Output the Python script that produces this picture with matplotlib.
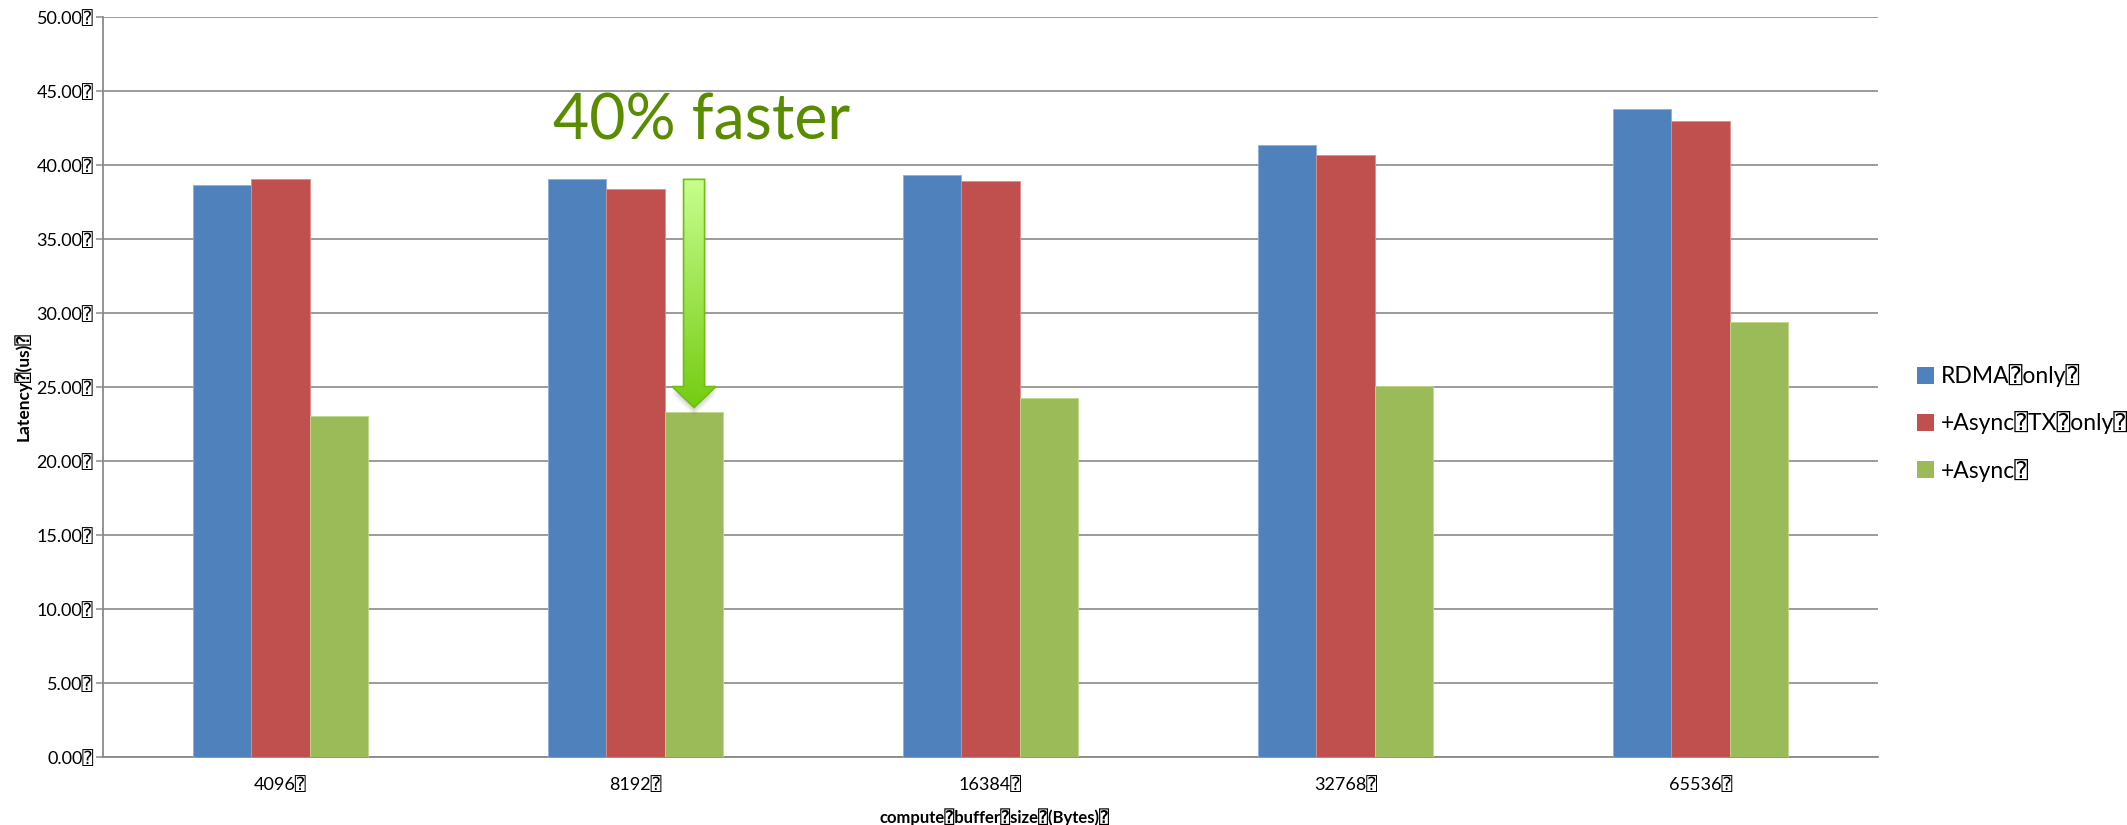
import numpy as np
import matplotlib
matplotlib.use("Agg")
import matplotlib.pyplot as plt
from matplotlib.patches import Polygon, Patch
from matplotlib.colors import LinearSegmentedColormap

# ---- data -------------------------------------------------------------
BOX = "\u2370"
sizes = ["4096", "8192", "16384", "32768", "65536"]
series_names = ["RDMA" + BOX + "only" + BOX,
                "+Async" + BOX + "TX" + BOX + "only" + BOX,
                "+Async" + BOX]
rdma_only = [38.63, 39.01, 39.28, 41.33, 43.74]
async_tx_only = [39.01, 38.34, 38.88, 40.66, 42.93]
async_full = [23.02, 23.29, 24.24, 25.02, 29.39]
y_ticks = [0, 5, 10, 15, 20, 25, 30, 35, 40, 45, 50]
callout = "40% faster"
callout_group = 1

colors = ["#4f81bd", "#c0504d", "#9bbb59"]
edge_colors = ["#8eb0dc", "#dd8e8c", "#c0d88f"]

plt.rcParams["font.family"] = ["Lato", "DejaVu Sans", "DejaVu Sans Mono"]

W, H = 2127, 825
fig = plt.figure(figsize=(W / 100, H / 100), dpi=100)
ax = fig.add_axes([103 / W, (H - 756.7) / H, (1878 - 103) / W, (756.7 - 16.7) / H])

x = np.arange(len(sizes))
bw = 0.165
series = [rdma_only, async_tx_only, async_full]
for i, (vals, c, ec) in enumerate(zip(series, colors, edge_colors)):
    ax.bar(x + (i - 1) * bw, vals, width=bw, color=c, edgecolor=ec,
           linewidth=0.6, zorder=3)

ax.set_xlim(-0.5, len(sizes) - 0.5)
ax.set_ylim(0, 50)
ax.set_yticks(y_ticks)
ax.set_yticklabels([f"{v:.2f}{BOX}" for v in y_ticks], fontsize=13)
ax.set_xticks(x)
ax.set_xticklabels([s + BOX for s in sizes], fontsize=13)
ax.tick_params(axis="y", length=5, width=1.1, color="#8a8a8a", pad=2)
ax.tick_params(axis="x", length=0, pad=14)

grid_c = "#8a8a8a"
ax.yaxis.grid(True, color=grid_c, linewidth=1.2, zorder=0)
ax.set_axisbelow(True)
for s in ["top", "right"]:
    ax.spines[s].set_visible(False)
for s in ["left", "bottom"]:
    ax.spines[s].set_color(grid_c)
    ax.spines[s].set_linewidth(1.3)

fig.text(23 / W, 0.5 * ((H - 756.7) / H + (H - 16.7) / H), "Latency" + BOX + "(us)" + BOX,
         rotation=90, ha="center", va="center", fontsize=12.5, fontweight="bold")
fig.text(995 / W, 1 - 817 / H, "compute" + BOX + "buffer" + BOX + "size" + BOX + "(Bytes)" + BOX,
         ha="center", va="center", fontsize=12, fontweight="bold")

# legend on the right
handles = [Patch(facecolor=c, edgecolor="none") for c in colors]
fig.legend(handles, series_names, loc="center left",
           bbox_to_anchor=(1917 / W, 1 - 423 / H), frameon=False,
           fontsize=16.5, handlelength=0.75, handleheight=0.75,
           handletextpad=0.3, labelspacing=1.05, borderpad=0, borderaxespad=0)

# ---- callout arrow with gradient fill ----------------------------------
g = callout_group
ax_x = g + bw
top = rdma_only[g]
tip = async_full[g] + 0.3
shaft_hw = 0.0296
head_hw = 0.062
head_len = 1.42
verts = [(ax_x - shaft_hw, top), (ax_x + shaft_hw, top),
         (ax_x + shaft_hw, tip + head_len), (ax_x + head_hw, tip + head_len),
         (ax_x, tip), (ax_x - head_hw, tip + head_len),
         (ax_x - shaft_hw, tip + head_len)]

# soft shadow under the arrow head
for k, a in enumerate([0.06, 0.05, 0.04]):
    off = 0.25 + 0.15 * k
    sv = [(vx, vy - off) for vx, vy in verts]
    ax.add_patch(Polygon(sv, closed=True, facecolor="#000000", edgecolor="none",
                         alpha=a, zorder=4))

ax.add_patch(Polygon(verts, closed=True, facecolor="none", edgecolor="#6fbf10",
                     linewidth=1.2, zorder=6))
grad = np.linspace(0, 1, 256).reshape(-1, 1)
cmap = LinearSegmentedColormap.from_list("g", ["#c6ff8e", "#9ee450", "#74cc12"])
im = ax.imshow(grad, cmap=cmap, aspect="auto", origin="upper",
               extent=(ax_x - head_hw, ax_x + head_hw, tip, top), zorder=5)
im.set_clip_path(Polygon(verts, closed=True, transform=ax.transData, facecolor="none"))
ax.set_xlim(-0.5, len(sizes) - 0.5)
ax.set_ylim(0, 50)

ax.text(1.185, 41.67, callout, ha="center", va="baseline", fontsize=45,
        color="#5a8c00", zorder=7)

fig.savefig("out.png", dpi=100)
